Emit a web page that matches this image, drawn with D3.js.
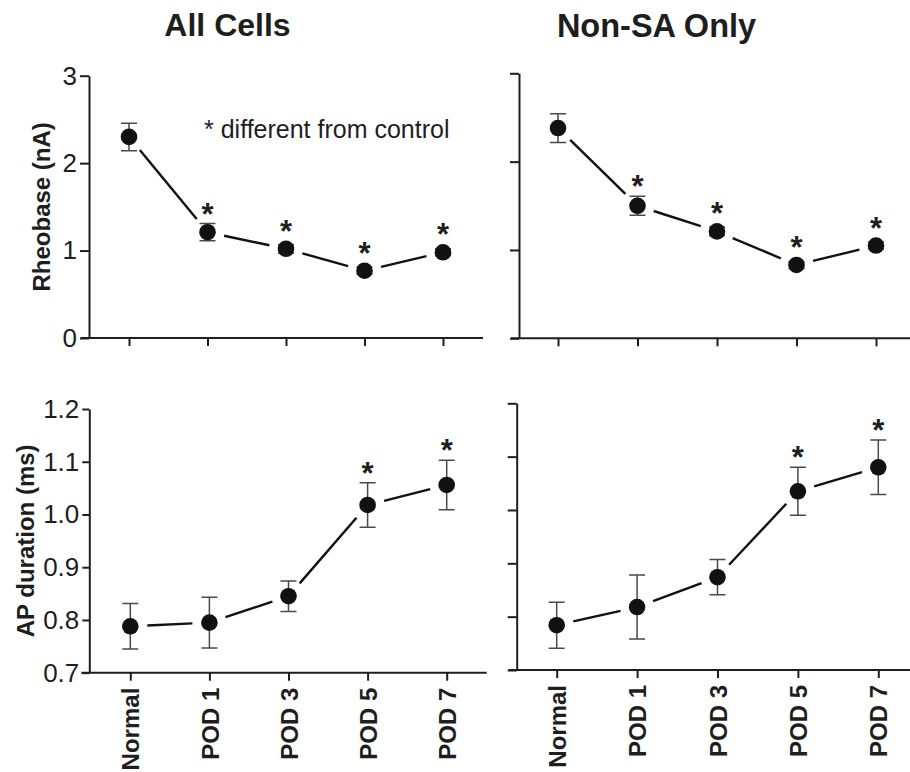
<!DOCTYPE html>
<meta charset="utf-8">
<style>
  body { margin: 0; background: #fff; }
  svg { display: block; font-family: "Liberation Sans", Arial, sans-serif; }
  .axis path, .axis line { stroke: #1e1e1e; stroke-width: 2; }
  .axis text { fill: #1e1e1e; }
  .err { stroke: #4a4a4a; stroke-width: 1.5; fill: none; }
  .seg { stroke: #111; stroke-width: 2.4; }
  .dot { fill: #111; }
</style>
<body>
<svg width="910" height="772"></svg>
<script src="https://d3js.org/d3.v7.min.js"></script>
<script>

var categories = ["Normal", "POD 1", "POD 3", "POD 5", "POD 7"];

// rheobase (nA), mean and SEM
var rheoAllMean = [2.30, 1.21, 1.02, 0.77, 0.98];
var rheoAllSem  = [0.157, 0.099, 0.05, 0.04, 0.04];
var rheoAllSig  = [false, true, true, true, true];

var rheoNonSAMean = [2.38, 1.50, 1.21, 0.83, 1.05];
var rheoNonSASem  = [0.162, 0.108, 0.05, 0.04, 0.04];
var rheoNonSASig  = [false, true, true, true, true];

// AP duration (ms), mean and SEM
var apdAllMean = [0.788, 0.795, 0.845, 1.018, 1.056];
var apdAllSem  = [0.043, 0.048, 0.029, 0.042, 0.047];
var apdAllSig  = [false, false, false, true, true];

var apdNonSAMean = [0.784, 0.818, 0.874, 1.035, 1.080];
var apdNonSASem  = [0.043, 0.060, 0.033, 0.045, 0.051];
var apdNonSASig  = [false, false, false, true, true];

var rheoTicks = [0, 1, 2, 3];
var apdTicks = [0.7, 0.8, 0.9, 1.0, 1.1, 1.2];

var svg = d3.select("svg");

function panel(o) {
  var g = svg.append("g").attr("transform", "translate(" + o.ox + ",0)");
  var x = d3.scalePoint().domain(categories).range(o.xr);
  var y = d3.scaleLinear().domain(o.domain).range([o.yBot, o.yTop]);

  // x axis line, a bit past the y axis on the left
  g.append("line")
      .attr("x1", -8).attr("x2", o.xr[1] + 40)
      .attr("y1", o.yBot).attr("y2", o.yBot)
      .style("stroke", "#1e1e1e").style("stroke-width", 2);

  var xg = g.append("g")
      .attr("class", "axis")
      .attr("transform", "translate(0," + o.yBot + ")")
      .call(d3.axisBottom(x).tickSize(8).tickFormat(o.xLabels ? null : ""));
  xg.select(".domain").remove();
  if (o.xLabels) {
    xg.selectAll("text")
        .attr("transform", "rotate(-90)")
        .attr("text-anchor", "end")
        .attr("x", -15).attr("y", 0).attr("dy", "0.36em")
        .style("font-size", "24px").style("font-weight", "bold");
  }

  var yg = g.append("g")
      .attr("class", "axis")
      .call(d3.axisLeft(y).tickValues(o.ticks).tickSize(o.tick).tickSizeOuter(0)
        .tickPadding(3).tickFormat(o.yLabels ? o.fmt : ""));
  yg.selectAll("text").style("font-size", "26px");

  if (o.title) {
    svg.append("text")
        .attr("transform", "translate(" + o.titleX + "," + ((o.yTop + o.yBot) / 2) + ") rotate(-90)")
        .attr("text-anchor", "middle")
        .style("font-size", "24px").style("font-weight", "bold").style("fill", "#1e1e1e")
        .text(o.title);
  }

  var pts = o.mean.map(function(m, i) { return [x(categories[i]), y(m)]; });

  // connecting segments with a gap around each marker
  var gap = 17;
  for (var i = 0; i < pts.length - 1; i++) {
    var a = pts[i], b = pts[i + 1];
    var dx = b[0] - a[0], dy = b[1] - a[1], len = Math.sqrt(dx * dx + dy * dy);
    var ux = dx / len, uy = dy / len;
    g.append("line").attr("class", "seg")
        .attr("x1", a[0] + ux * gap).attr("y1", a[1] + uy * gap)
        .attr("x2", b[0] - ux * gap).attr("y2", b[1] - uy * gap);
  }

  // error bars
  o.mean.forEach(function(m, i) {
    var cx = x(categories[i]), s = o.sem[i];
    var y1 = y(m + s), y2 = y(m - s);
    g.append("path").attr("class", "err")
        .attr("d", "M" + cx + "," + y1 + "V" + y2 +
                   "M" + (cx - 8) + "," + y1 + "H" + (cx + 8) +
                   "M" + (cx - 8) + "," + y2 + "H" + (cx + 8));
  });

  g.selectAll("circle").data(o.mean).enter().append("circle")
      .attr("class", "dot")
      .attr("cx", function(d, i) { return x(categories[i]); })
      .attr("cy", function(d) { return y(d); })
      .attr("r", 8.3);

  o.mean.forEach(function(m, i) {
    if (!o.sig[i]) return;
    var top = Math.min(y(m + o.sem[i]), y(m) - 8);
    g.append("text")
        .attr("x", x(categories[i])).attr("y", top + 1)
        .attr("text-anchor", "middle")
        .style("font-size", "31px").style("font-weight", "bold").style("fill", "#1e1e1e")
        .text("*");
  });
}

panel({ ox: 89, xr: [40, 354], yTop: 75.7, yBot: 338, domain: [0, 3], ticks: rheoTicks, tick: 9,
  fmt: d3.format("d"), yLabels: true, xLabels: false, title: "Rheobase (nA)", titleX: 50,
  mean: rheoAllMean, sem: rheoAllSem, sig: rheoAllSig });
panel({ ox: 519, xr: [39, 357], yTop: 73.3, yBot: 338.3, domain: [0, 3], ticks: rheoTicks, tick: 9,
  fmt: d3.format("d"), yLabels: false, xLabels: false,
  mean: rheoNonSAMean, sem: rheoNonSASem, sig: rheoNonSASig });
panel({ ox: 89.3, xr: [41, 357.4], yTop: 409, yBot: 672.7, domain: [0.7, 1.2], ticks: apdTicks, tick: 7,
  fmt: d3.format(".1f"), yLabels: true, xLabels: true, title: "AP duration (ms)", titleX: 34,
  mean: apdAllMean, sem: apdAllSem, sig: apdAllSig });
panel({ ox: 516.7, xr: [40, 361.6], yTop: 403.3, yBot: 670, domain: [0.7, 1.2], ticks: apdTicks, tick: 9,
  fmt: d3.format(".1f"), yLabels: false, xLabels: true,
  mean: apdNonSAMean, sem: apdNonSASem, sig: apdNonSASig });

svg.append("text").attr("x", 227.5).attr("y", 36).attr("text-anchor", "middle")
    .style("font-size", "32px").style("font-weight", "bold").style("fill", "#1e1e1e")
    .text("All Cells");
svg.append("text").attr("x", 656.5).attr("y", 37).attr("text-anchor", "middle")
    .style("font-size", "32.5px").style("font-weight", "bold").style("fill", "#1e1e1e")
    .text("Non-SA Only");

svg.append("text").attr("x", 204).attr("y", 138.3)
    .style("font-size", "25px").style("fill", "#1e1e1e")
    .text("* different from control");

</script>
</body>
